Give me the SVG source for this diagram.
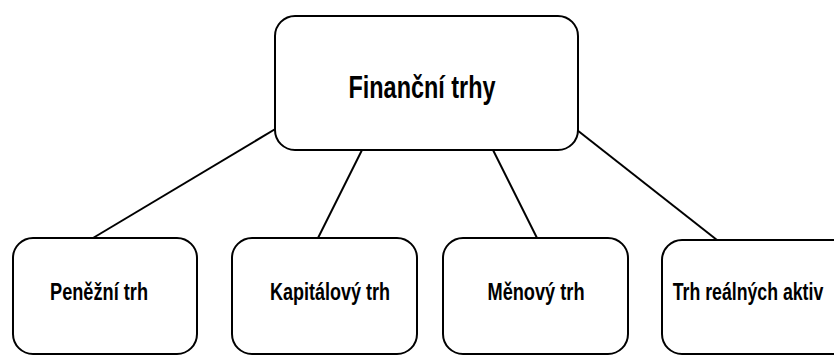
<svg xmlns="http://www.w3.org/2000/svg" width="834" height="356" viewBox="0 0 834 356">
<style>
.box{fill:#fff;stroke:#000;stroke-width:2}
.lbl{font-family:"Liberation Sans",Arial,sans-serif;font-weight:bold;fill:#000;text-anchor:middle}
.conn line{stroke:#000;stroke-width:2}
</style>
<rect width="834" height="356" fill="#fff"/>
<g class="conn" id="connectors">
<line x1="277" y1="128" x2="93" y2="238"/>
<line x1="362" y1="150" x2="318" y2="238"/>
<line x1="493" y1="150" x2="537" y2="238"/>
<line x1="577" y1="130" x2="717" y2="240"/>
</g>
<g id="root">
<rect class="box" x="275" y="16" width="303" height="134" rx="20"/>
<text class="lbl" x="422" y="98" font-size="32" textLength="147" lengthAdjust="spacingAndGlyphs">Finanční trhy</text>
</g>
<g id="penezni">
<rect class="box" x="13" y="238" width="184" height="116" rx="20"/>
<text class="lbl" x="99" y="300" font-size="23" textLength="98" lengthAdjust="spacingAndGlyphs">Peněžní trh</text>
</g>
<g id="kapitalovy">
<rect class="box" x="232" y="238" width="185" height="116" rx="20"/>
<text class="lbl" x="330" y="300" font-size="23" textLength="120" lengthAdjust="spacingAndGlyphs">Kapitálový trh</text>
</g>
<g id="menovy">
<rect class="box" x="443" y="238" width="185" height="116" rx="20"/>
<text class="lbl" x="536" y="300" font-size="23" textLength="97" lengthAdjust="spacingAndGlyphs">Měnový trh</text>
</g>
<g id="realna">
<rect class="box" x="662" y="240" width="190" height="114" rx="20"/>
<text class="lbl" transform="translate(748 300) scale(0.77 1)" x="0" y="0" font-size="23">Trh reálných aktiv</text>
</g>
</svg>
